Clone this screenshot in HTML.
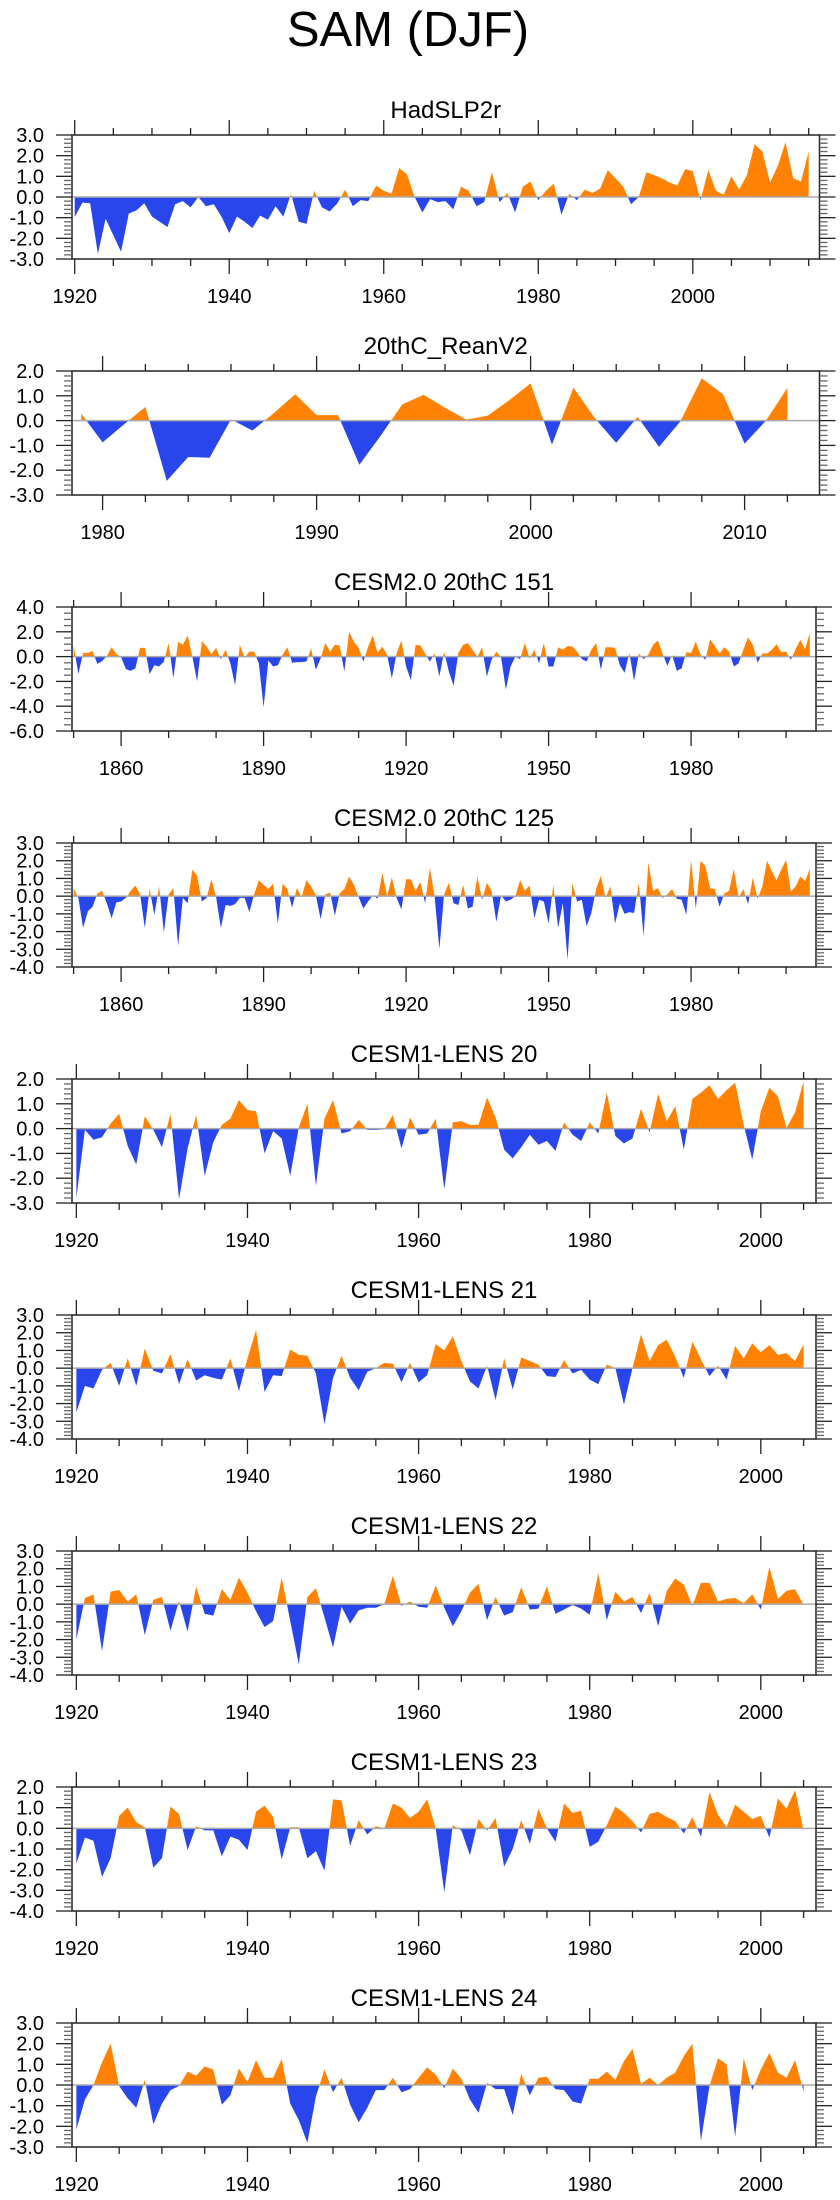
<!DOCTYPE html>
<html><head><meta charset="utf-8"><title>SAM (DJF)</title>
<style>
html,body{margin:0;padding:0;background:#fff;}
#wrap{position:relative;width:840px;height:2200px;overflow:hidden;}
svg text{font-family:"Liberation Sans",Arial,sans-serif;fill:#000;}
</style></head>
<body>
<div id="wrap">
<svg id="fig" width="840" height="2200" viewBox="0 0 840 2200" xmlns="http://www.w3.org/2000/svg">
<text x="408" y="46" font-size="49" text-anchor="middle">SAM (DJF)</text>
</svg>
</div>
<script>
// ---- data ----
const panelTitles = ["HadSLP2r","20thC_ReanV2","CESM2.0 20thC 151","CESM2.0 20thC 125","CESM1-LENS 20","CESM1-LENS 21","CESM1-LENS 22","CESM1-LENS 23","CESM1-LENS 24"];
const startYears = [1920,1979,1850,1850,1920,1920,1920,1920,1920];
const hadslp2r = [-0.97,-0.27,-0.3,-2.75,-1.05,-1.85,-2.65,-0.8,-0.65,-0.3,-0.95,-1.2,-1.45,-0.35,-0.2,-0.5,0.0,-0.45,-0.35,-0.95,-1.75,-0.95,-1.2,-1.5,-0.9,-1.1,-0.45,-0.95,0.15,-1.2,-1.3,0.3,-0.5,-0.7,-0.3,0.35,-0.45,-0.15,-0.2,0.55,0.3,0.15,1.4,1.1,0.0,-0.75,-0.1,-0.25,-0.2,-0.6,0.5,0.3,-0.45,-0.25,1.2,-0.25,0.2,-0.75,0.5,0.75,-0.15,0.3,0.65,-0.85,0.15,-0.15,0.35,0.2,0.4,1.3,0.9,0.5,-0.35,0.0,1.2,1.05,0.9,0.7,0.55,1.35,1.25,-0.15,1.3,0.3,0.1,1.0,0.35,1.05,2.55,2.2,0.7,1.5,2.65,0.9,0.75,2.2];
const reanV2 = [0.28,-0.88,-0.15,0.55,-2.43,-1.47,-1.5,0.05,-0.4,0.3,1.06,0.22,0.22,-1.78,-0.6,0.65,1.04,0.52,0.04,0.2,0.82,1.5,-0.97,1.33,0.1,-0.9,0.15,-1.06,-0.03,1.71,1.05,-0.93,0.0,1.32];
const cesm2_151 = [0.9,-1.4,0.3,0.3,0.45,-0.6,-0.35,0.05,0.75,0.2,-0.05,-1.0,-1.15,-0.95,0.7,0.7,-1.4,-0.7,-0.8,-0.4,1.1,-1.75,1.2,0.95,1.7,0,-2.0,1.25,0.8,0.2,0.7,-0.2,0.55,-0.55,-2.3,0.95,-0.1,0.4,0.4,-0.55,-4.1,-0.3,-0.8,-0.7,0.15,0.75,-0.5,-0.45,-0.45,-0.4,0.65,-1.05,-0.15,1.1,0.4,0.95,0.9,-1.2,2.0,1.2,0.7,-0.4,0.8,1.7,0.3,0.8,0.15,-1.75,0.25,1.3,-0.8,-1.9,0.95,0.9,0.25,-0.4,0.25,-1.6,0.4,-1.2,-2.35,0.3,0.95,1.1,0.55,-0.05,0.75,-1.6,-0.25,0.4,-0.05,-2.65,-0.8,0,-0.2,1.1,-0.15,0.55,-0.55,1.1,-0.8,-0.8,0.75,0.55,0.85,0.8,0.4,-0.2,-0.4,0.55,1.1,-1.05,0.75,0.75,0.7,-0.7,-1.3,0.3,-1.95,0.25,-0.2,0.15,0.95,1.3,0.25,-0.75,0.15,-1.15,-0.95,0.35,0.3,1.2,0.15,-0.25,1.4,0.85,0.25,0.75,0.4,-0.8,-0.55,0.55,1.55,0.95,-0.5,0.25,0.25,0.55,1.0,0.35,0.4,-0.25,0.6,1.35,0.6,1.9];
const cesm2_125 = [0.45,-0.1,-1.8,-0.85,-0.6,0.15,0.3,-0.4,-1.25,-0.35,-0.3,-0.1,0.3,0.6,0.1,-1.8,0.4,-1.05,0.55,-2.05,0.1,0.45,-2.8,-0.1,-0.4,1.5,1.15,-0.3,-0.1,0.95,-0.05,-1.8,-0.5,-0.55,-0.45,-0.1,-0.1,-0.9,0.1,0.9,0.65,0.4,0.7,-1.55,0.7,0.4,-0.65,0.45,-0.05,0.9,0.55,0.05,-1.3,0.1,0.2,-1.1,0.15,0.4,1.1,0.65,-0.05,-0.7,-0.3,0.05,-0.15,1.3,0,1.05,-0.1,-0.75,0.95,0.95,0.3,0.8,-0.4,1.6,0,-3.0,0.1,0.75,-0.4,-0.5,0.65,-0.7,-0.6,1.1,-0.2,0.75,0.3,-1.45,0.05,-0.3,-0.2,0,0.9,0.3,0.6,-1.25,-0.2,-0.3,-1.55,0.65,-1.8,-0.4,-3.6,0.75,-0.3,-0.2,-1.7,-0.95,0.4,1.15,-0.1,0.55,-1.55,-0.4,-1.0,-0.9,-0.95,0.75,-2.25,1.9,0.3,0.45,-0.1,0.1,0.4,-0.15,-0.2,-1.05,2.05,-0.7,2.0,1.7,0.45,0.4,-0.6,0.15,0.3,1.55,-0.1,0.4,-0.45,1.05,-0.15,0.55,2.0,1.4,0.9,1.5,2.05,0.25,0.55,1.1,0.85,1.55];
const lens20 = [-2.8,-0.05,-0.45,-0.35,0.2,0.6,-0.7,-1.45,0.5,-0.05,-0.75,0.6,-2.85,-0.8,0.55,-1.9,-0.55,0.15,0.4,1.15,0.75,0.7,-1.0,-0.1,-0.4,-1.9,0.05,1.0,-2.3,0.4,1.15,-0.2,-0.1,0.35,-0.05,-0.05,-0.03,0.55,-0.8,0.45,-0.25,-0.2,0.4,-2.45,0.25,0.3,0.15,0.15,1.25,0.45,-0.85,-1.2,-0.75,-0.25,-0.65,-0.5,-0.9,0.25,-0.25,-0.5,0.25,-0.2,1.45,-0.3,-0.6,-0.4,0.8,-0.15,1.4,0.3,0.9,-0.85,1.2,1.45,1.75,1.2,1.55,1.85,0.15,-1.25,0.7,1.65,1.3,0.03,0.65,1.9];
const lens21 = [-2.5,-1.0,-1.15,-0.1,0.3,-1.0,0.55,-1.0,1.1,-0.15,-0.3,0.8,-0.9,0.5,-0.7,-0.4,-0.55,-0.65,0.55,-1.3,0.55,2.15,-1.35,-0.4,-0.45,1.05,0.75,0.7,-0.3,-3.15,-0.55,0.7,-0.55,-1.25,-0.2,0,0.3,0.25,-0.8,0.3,-0.8,-0.4,1.35,1.0,1.8,0.4,-0.75,-1.15,0.15,-1.8,0.55,-1.2,0.6,0.4,0.2,-0.45,-0.5,0.45,-0.3,-0.1,-0.65,-0.9,0.2,0,-2.05,0,1.9,0.4,1.3,1.6,0.65,-0.55,1.5,0.5,-0.45,0.15,-0.65,1.25,0.55,1.4,0.9,1.3,0.75,0.85,0.4,1.35];
const lens22 = [-2.0,0.35,0.55,-2.65,0.7,0.8,0.15,0.55,-1.75,0.25,0.4,-1.5,0.2,-1.55,1.0,-0.55,-0.65,0.85,0.25,1.5,0.65,-0.4,-1.3,-0.95,1.5,-0.95,-3.4,0.4,0.9,-0.75,-2.45,-0.15,-1.1,-0.35,-0.2,-0.2,0,1.6,-0.1,0.15,-0.15,-0.2,1.05,-0.2,-1.25,-0.4,0.65,1.15,-0.9,0.4,-0.65,-0.45,0.95,-0.3,-0.25,1.0,-0.55,-0.3,-0.05,-0.25,-0.6,1.75,-0.9,0.7,0.15,0.4,-0.5,0.65,-1.25,0.75,1.45,1.1,-0.1,1.2,1.2,0.15,0.3,0.35,0.05,0.55,-0.3,2.1,0.3,0.75,0.85,-0.05];
const lens23 = [-1.7,-0.45,-0.6,-2.35,-1.45,0.6,1.0,0.3,0.05,-1.9,-1.45,1.05,0.7,-1.05,0.1,-0.1,-0.1,-1.35,-0.4,-0.55,-1.05,0.8,1.1,0.55,-1.5,0.05,0.05,-1.45,-1.1,-2.05,1.4,1.35,-0.85,0.4,-0.3,0.1,0,1.2,1.0,0.5,0.8,1.4,0,-3.1,0.15,-0.1,-1.3,0.45,-0.1,0.5,-1.85,-1.0,0.4,-0.75,0.95,0,-0.65,1.2,0.75,0.85,-0.9,-0.65,0.15,1.05,0.75,0.35,-0.2,0.7,0.8,0.55,0.35,-0.25,0.55,-0.4,1.75,0.65,0.05,1.15,0.8,0.45,0.6,-0.45,1.45,0.95,1.85,-0.1];
const lens24 = [-2.15,-0.7,0,1.1,2.0,-0.05,-0.65,-1.1,0.25,-1.9,-0.9,-0.25,-0.05,0.65,0.45,0.9,0.75,-0.95,-0.5,0.8,0.15,1.2,0.35,0.35,1.25,-0.9,-1.7,-2.8,-0.55,0.75,-0.35,0.35,-0.95,-1.8,-1.1,-0.25,-0.25,0.35,-0.35,-0.2,0.35,0.85,0.5,-0.15,0.8,0.3,-0.7,-1.35,0.1,-0.2,-0.2,-1.45,0.55,-0.5,0.35,0.4,-0.2,-0.25,-0.8,-0.9,0.3,0.3,0.65,0.25,1.15,1.75,0.05,0.35,0,0.35,0.6,1.4,2.0,-2.7,-0.05,1.3,1.0,-2.5,1.3,-0.25,0.75,1.55,0.6,0.35,1.2,-0.3];
const seriesValues = [hadslp2r,reanV2,cesm2_151,cesm2_125,lens20,lens21,lens22,lens23,lens24];
const yMinVals = [-3,-3,-6,-4,-3,-4,-4,-4,-3];
const yMaxVals = [3,2,4,3,2,3,3,2,3];
const yMajorStep = [1,1,2,1,1,1,1,1,1];
const xTickLabels = [[1920,1940,1960,1980,2000],[1980,1990,2000,2010],[1860,1890,1920,1950,1980],[1860,1890,1920,1950,1980],[1920,1940,1960,1980,2000],[1920,1940,1960,1980,2000],[1920,1940,1960,1980,2000],[1920,1940,1960,1980,2000],[1920,1940,1960,1980,2000]];

// ---- layout (not data) ----
const layout = [
 {xmin:1919.65,xmax:2016.4,minorX:5,firstMinor:1920,right:819.5,yMinor:0.2},
 {xmin:1978.57,xmax:2013.5,minorX:2,firstMinor:1980,right:819.5,yMinor:0.2},
 {xmin:1849.66,xmax:2006.3,minorX:10,firstMinor:1850,right:816,yMinor:0.5},
 {xmin:1849.66,xmax:2006.3,minorX:10,firstMinor:1850,right:816,yMinor:0.2},
 {xmin:1919.49,xmax:2006.45,minorX:5,firstMinor:1920,right:816,yMinor:0.2},
 {xmin:1919.49,xmax:2006.45,minorX:5,firstMinor:1920,right:816,yMinor:0.2},
 {xmin:1919.49,xmax:2006.45,minorX:5,firstMinor:1920,right:816,yMinor:0.2},
 {xmin:1919.49,xmax:2006.45,minorX:5,firstMinor:1920,right:816,yMinor:0.2},
 {xmin:1919.49,xmax:2006.45,minorX:5,firstMinor:1920,right:816,yMinor:0.2}
];
const NS = "http://www.w3.org/2000/svg";
const svg = document.getElementById("fig");
function mk(tag, attrs, parent){
  const e = document.createElementNS(NS, tag);
  for (const k in attrs) e.setAttribute(k, attrs[k]);
  (parent||svg).appendChild(e);
  return e;
}
const LEFT = 72, TOP0 = 135, GAP = 236, H = 124;
for (let p = 0; p < 9; p++) {
  const L = layout[p];
  const top = TOP0 + GAP*p, bot = top + H, left = LEFT, right = L.right;
  const ymin = yMinVals[p], ymax = yMaxVals[p];
  const xs = v => left + (v - L.xmin) / (L.xmax - L.xmin) * (right - left);
  const ys = v => bot - (v - ymin) / (ymax - ymin) * H;
  const g = mk("g", {});
  
  

  const t = mk("text", {x:(left+right)/2, y: top-17, "font-size":24, "text-anchor":"middle"}, g);
  t.textContent = panelTitles[p];
  
  

  // area
  const vals = seriesValues[p], y0 = ys(0);
  let d = "M" + xs(startYears[p]).toFixed(2) + "," + y0.toFixed(2);
  vals.forEach((v,i) => { d += " L" + xs(startYears[p]+i).toFixed(2) + "," + ys(v).toFixed(2); });
  d += " L" + xs(startYears[p]+vals.length-1).toFixed(2) + "," + y0.toFixed(2) + " Z";
  const cidA = "clipA"+p, cidB = "clipB"+p;
  const defs = mk("defs", {}, g);
  const ca = mk("clipPath", {id:cidA}, defs);
  mk("rect", {x:left, y:top, width:right-left, height:y0-top}, ca);
  const cb = mk("clipPath", {id:cidB}, defs);
  mk("rect", {x:left, y:y0, width:right-left, height:bot-y0}, cb);
  const pos = mk("path", {d:d, fill:"#ff8205", "clip-path":"url(#"+cidA+")"}, g);
  
  
  const neg = mk("path", {d:d, fill:"#2846ec", "clip-path":"url(#"+cidB+")"}, g);
  
  
  const zl = mk("line", {x1:left, x2:right, y1:y0, y2:y0, stroke:"#aaaaaa", "stroke-width":1.5}, g);
  
  

  const box = mk("rect", {x:left, y:top, width:right-left, height:H, fill:"none", stroke:"#222", "stroke-width":1.5}, g);
  
  

  // x ticks
  for (let yr = L.firstMinor; yr <= L.xmax; yr += L.minorX) {
    if (yr < L.xmin) continue;
    const major = xTickLabels[p].indexOf(yr) >= 0;
    const len = major ? 15 : 7, x = xs(yr);
    mk("line", {x1:x, x2:x, y1:bot, y2:bot+len, stroke:"#222", "stroke-width":1.3}, g);
    mk("line", {x1:x, x2:x, y1:top, y2:top-len, stroke:"#222", "stroke-width":1.3}, g);
  }
  xTickLabels[p].forEach(v => {
    const tl = mk("text", {x:xs(v), y:bot+44, "font-size":20, "text-anchor":"middle"}, g);
    tl.textContent = v;
    
    
  });
  // y ticks
  const nMinor = Math.round((ymax - ymin) / L.yMinor);
  for (let i = 0; i <= nMinor; i++) {
    const v = ymin + i * L.yMinor, y = ys(v);
    const r = (v - ymin) / yMajorStep[p];
    const major = Math.abs(r - Math.round(r)) < 1e-6;
    const len = major ? 16 : 8;
    mk("line", {x1:left-len, x2:left, y1:y, y2:y, stroke:major?"#222":"#666", "stroke-width":1.3}, g);
    mk("line", {x1:right, x2:right+len, y1:y, y2:y, stroke:major?"#222":"#666", "stroke-width":1.3}, g);
    if (major) {
      const yl = mk("text", {x:44, y:y+7, "font-size":20, "text-anchor":"end"}, g);
      yl.textContent = v.toFixed(1);
      
      
    }
  }
}
</script>
</body></html>
